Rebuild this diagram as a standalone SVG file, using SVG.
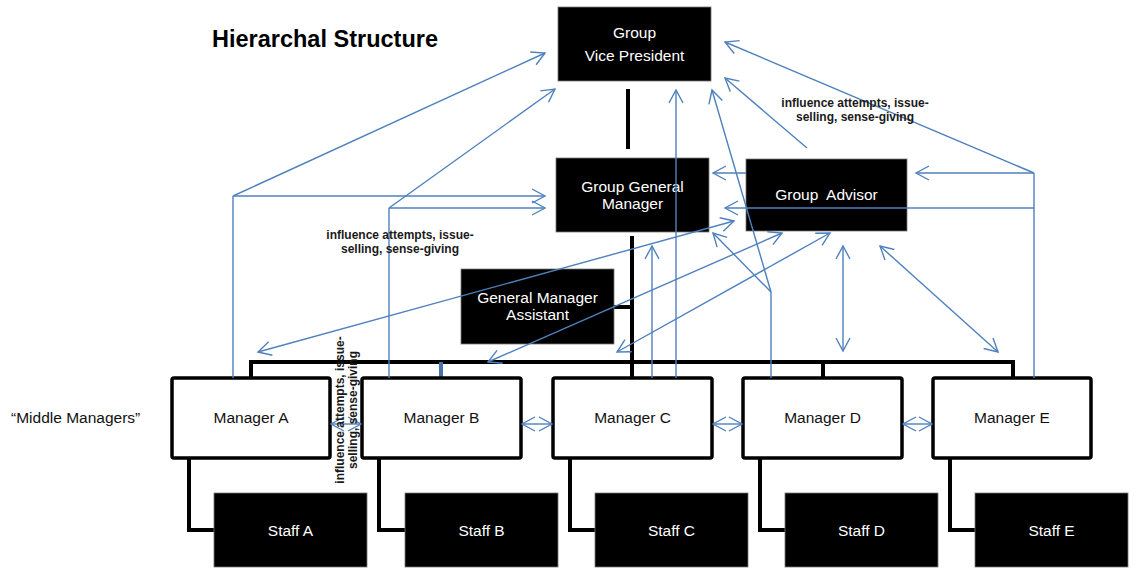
<svg xmlns="http://www.w3.org/2000/svg" width="1136" height="569" viewBox="0 0 1136 569">
<style>
text{font-family:"Liberation Sans",Arial,sans-serif}
.bk rect{fill:#000;stroke:#777;stroke-width:0.8}
.bk text{fill:#fff;font-size:15.5px;text-anchor:middle}
.mg rect{fill:#fff;stroke:#000;stroke-width:3.5}
.mg text{fill:#111;font-size:15.5px;text-anchor:middle}
.st{fill:none;stroke:#000;stroke-width:4}
.bl{fill:none;stroke:#4F81BD;stroke-width:1.4}
.a1{marker-end:url(#ah)}
.a2{marker-start:url(#ah);marker-end:url(#ah)}
.lbl{font-size:12px;font-weight:bold;fill:#1a1a1a;text-anchor:middle}
</style>
<defs>
<marker id="ah" viewBox="-16 -10 20 20" refX="0" refY="0" markerWidth="20" markerHeight="20" markerUnits="userSpaceOnUse" orient="auto-start-reverse">
<path d="M-13,-7 L0,0 L-13,7" fill="none" stroke="#4F81BD" stroke-width="1.4"/>
</marker>
</defs>
<rect width="1136" height="569" fill="#fff"/>
<text x="212" y="47" font-size="23.5" font-weight="bold" fill="#000">Hierarchal Structure</text>
<text x="11" y="423" font-size="15.5" fill="#111">“Middle Managers”</text>

<g id="structure">
<path class="st" d="M628,89 V149" stroke-width="4.5"/>
<path class="st" d="M632,236 V378"/>
<path class="st" d="M614,307 H632" stroke-width="3"/>
<path class="st" d="M251,378 V362 H1013 V378"/>
<path class="st" d="M823,362 V378"/>
<path d="M441,362 V378" stroke="#4A72AA" stroke-width="4"/>
<path class="st" d="M189,458 V530 H214"/>
<path class="st" d="M379,458 V530 H405"/>
<path class="st" d="M570,458 V530 H595"/>
<path class="st" d="M760,458 V530 H785"/>
<path class="st" d="M950,458 V530 H975"/>
</g>

<g id="vp" class="bk"><rect x="558" y="7" width="153" height="74"/><text x="634.5" y="38">Group</text><text x="634.5" y="61">Vice President</text></g>
<g id="ggm" class="bk"><rect x="556" y="158" width="153" height="74"/><text x="632.5" y="192">Group General</text><text x="632.5" y="209">Manager</text></g>
<g id="ga" class="bk"><rect x="746" y="159" width="161" height="72"/><text x="826.5" y="200" xml:space="preserve">Group  Advisor</text></g>
<g id="gma" class="bk"><rect x="461" y="269" width="153" height="75"/><text x="537.5" y="303">General Manager</text><text x="537.5" y="320">Assistant</text></g>

<g id="managerA" class="mg"><rect x="172" y="378" width="158" height="80" rx="2"/><text x="251" y="423">Manager A</text></g>
<g id="managerB" class="mg"><rect x="362" y="378" width="159" height="80" rx="2"/><text x="441.5" y="423">Manager B</text></g>
<g id="managerC" class="mg"><rect x="553" y="378" width="159" height="80" rx="2"/><text x="632.5" y="423">Manager C</text></g>
<g id="managerD" class="mg"><rect x="743" y="378" width="159" height="80" rx="2"/><text x="822.5" y="423">Manager D</text></g>
<g id="managerE" class="mg"><rect x="933" y="378" width="158" height="80" rx="2"/><text x="1012" y="423">Manager E</text></g>

<g id="staffA" class="bk"><rect x="214" y="493" width="153" height="74"/><text x="290.5" y="536">Staff A</text></g>
<g id="staffB" class="bk"><rect x="405" y="493" width="153" height="74"/><text x="481.5" y="536">Staff B</text></g>
<g id="staffC" class="bk"><rect x="595" y="493" width="153" height="74"/><text x="671.5" y="536">Staff C</text></g>
<g id="staffD" class="bk"><rect x="785" y="493" width="153" height="74"/><text x="861.5" y="536">Staff D</text></g>
<g id="staffE" class="bk"><rect x="975" y="493" width="153" height="74"/><text x="1051.5" y="536">Staff E</text></g>

<g id="connectors">
<path class="bl" d="M233,378 V196"/>
<path class="bl a1" d="M233,196 H545"/>
<path class="bl a1" d="M233,196 L545,53"/>
<path class="bl" d="M389,378 V208"/>
<path class="bl a1" d="M389,208 H545"/>
<path class="bl a1" d="M389,208 L555,89"/>
<path class="bl a1" d="M652,378 V246"/>
<path class="bl a1" d="M676,378 V90"/>
<path class="bl" d="M771,378 V292"/>
<path class="bl a1" d="M771,292 L713,233"/>
<path class="bl a1" d="M771,292 L712,90"/>
<path class="bl a1" d="M807,148 L725,78"/>
<path class="bl" d="M1034,378 V173"/>
<path class="bl a1" d="M1034,173 H916"/>
<path class="bl a1" d="M1034,173 L725,42"/>
<path class="bl a1" d="M1034,208 H725"/>
<path class="bl a1" d="M746,173 H713"/>
<path class="bl a2" d="M258,352 L734,221"/>
<path class="bl a2" d="M488,362 L782,233"/>
<path class="bl a2" d="M617,352 L830,233"/>
<path class="bl a2" d="M843,246 V351"/>
<path class="bl a2" d="M880,246 L998,352"/>
<path class="bl a2" d="M331,424 H361"/>
<path class="bl a2" d="M522,424 H552"/>
<path class="bl a2" d="M713,424 H742"/>
<path class="bl a2" d="M903,424 H932"/>
</g>

<g id="labels">
<text class="lbl" x="855" y="107">influence attempts, issue-</text>
<text class="lbl" x="855" y="121">selling, sense-giving</text>
<text class="lbl" x="400" y="239">influence attempts, issue-</text>
<text class="lbl" x="400" y="253">selling, sense-giving</text>
<g transform="translate(344,410) rotate(-90)">
<text class="lbl" x="0" y="0">influence attempts, issue-</text>
<text class="lbl" x="0" y="13">selling, sense-giving</text>
</g>
</g>
</svg>
